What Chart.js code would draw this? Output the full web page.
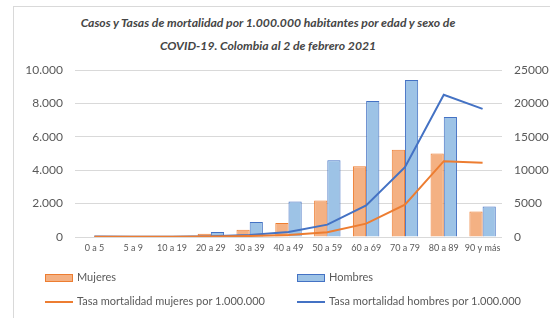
<!DOCTYPE html>
<html>
<head>
<meta charset="utf-8">
<script src="https://cdn.jsdelivr.net/npm/chart.js"></script>
<style>
  body { margin: 0; background: #fff; font-family: Lato, sans-serif; }
  #wrap { position: relative; width: 550px; height: 318px; overflow: hidden; }
  #frame { position: absolute; left: 13px; top: 6px; width: 600px; height: 400px; border: 1px solid #d9d9d9; }
  #title { position: absolute; left: 13px; top: 11px; width: 510px; text-align: center; font: italic bold 12.2px Lato, sans-serif; color: #454545; line-height: 23px; }
  canvas { position: absolute; left: 0; top: 0; }
  .lg { position: absolute; font: 11px Lato, sans-serif; color: #595959; white-space: nowrap; }
  .lg i { display: inline-block; vertical-align: middle; margin-right: 4px; }
  .box { width: 26px; height: 6px; border: 1px solid; }
  .ln { width: 28px; height: 2px; }
</style>
</head>
<body>
<div id="wrap">
  <div id="frame"></div>
  <div id="title">Casos y Tasas de mortalidad por 1.000.000 habitantes por edad y sexo de<br>COVID-19. Colombia al 2 de febrero 2021</div>
  <canvas id="c" width="550" height="318"></canvas>
  <div class="lg" style="left:45px;top:270px"><i class="box" style="background:#F4B183;border-color:#ED7D31"></i>Mujeres</div>
  <div class="lg" style="left:297px;top:270px"><i class="box" style="background:#9DC3E6;border-color:#4472C4"></i>Hombres</div>
  <div class="lg" style="left:45px;top:294px"><i class="ln" style="background:#ED7D31"></i>Tasa mortalidad mujeres por 1.000.000</div>
  <div class="lg" style="left:297px;top:294px"><i class="ln" style="background:#4472C4"></i>Tasa mortalidad hombres por 1.000.000</div>
</div>
<script>
// Age groups and values
const grupos = ['0 a 5', '5 a 9', '10 a 19', '20 a 29', '30 a 39', '40 a 49', '50 a 59', '60 a 69', '70 a 79', '80 a 89', '90 y más'];
const casosMujeres = [30, 20, 35, 200, 440, 840, 2180, 4240, 5220, 5000, 1520];
const casosHombres = [30, 25, 40, 300, 900, 2120, 4600, 8150, 9400, 7190, 1830];
const tasaMujeres = [40, 30, 40, 60, 150, 300, 700, 2000, 4840, 11350, 11110];
const tasaHombres = [60, 40, 50, 100, 300, 750, 1850, 4730, 10450, 21300, 19180];

const tick = { color: '#595959', font: { family: 'Lato', size: 12 } };

new Chart(document.getElementById('c'), {
    data: {
        labels: grupos,
        datasets: [
            { type: 'line', label: 'Tasa mortalidad mujeres por 1.000.000', data: tasaMujeres, yAxisID: 'y2',
              borderColor: '#ED7D31', borderWidth: 2, pointRadius: 0, tension: 0, order: 0 },
            { type: 'line', label: 'Tasa mortalidad hombres por 1.000.000', data: tasaHombres, yAxisID: 'y2',
              borderColor: '#4472C4', borderWidth: 2, pointRadius: 0, tension: 0, order: 0 },
            { type: 'bar', label: 'Mujeres', data: casosMujeres, yAxisID: 'y',
              backgroundColor: '#F4B183', borderColor: '#ED7D31', borderWidth: 1, order: 1 },
            { type: 'bar', label: 'Hombres', data: casosHombres, yAxisID: 'y',
              backgroundColor: '#9DC3E6', borderColor: '#4472C4', borderWidth: 1, order: 1 }
        ]
    },
    options: {
        responsive: false,
        animation: false,
        layout: { padding: { left: 20, right: 0, top: 70, bottom: 61 } },
        datasets: { bar: { categoryPercentage: 0.68, barPercentage: 1 } },
        plugins: { legend: { display: false }, title: { display: false }, tooltip: { enabled: false } },
        scales: {
            x: {
                grid: { display: false, drawTicks: false },
                border: { display: false },
                ticks: { color: '#595959', font: { family: 'Lato', size: 9 }, padding: 6, maxRotation: 0, autoSkip: false },
                afterFit: s => { s.height = 20; }
            },
            y: {
                position: 'left', min: 0, max: 10000,
                ticks: Object.assign({ stepSize: 2000, padding: 12,
                    callback: v => v.toLocaleString('de-DE') }, tick),
                grid: { color: '#d9d9d9', drawTicks: false },
                border: { display: false },
                afterFit: s => { s.width = 55; }
            },
            y2: {
                position: 'right', min: 0, max: 25000,
                ticks: Object.assign({ stepSize: 5000, padding: 12, callback: v => String(v) }, tick),
                grid: { display: false, drawTicks: false },
                border: { display: false },
                afterFit: s => { s.width = 48; }
            }
        }
    }
});
</script>
</body>
</html>
